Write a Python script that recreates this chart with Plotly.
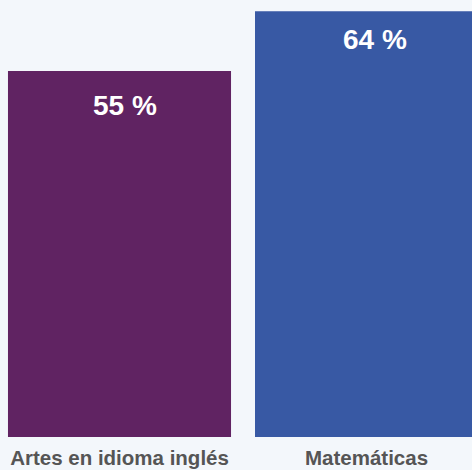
import plotly.graph_objects as go

categories = ["Artes en idioma inglés", "Matemáticas"]
values = [55, 64]
labels = ["55 %", "64 %"]
colors = ["#602362", "#3859a4"]

BG = "#f3f7fb"

fig = go.Figure()
fig.add_trace(go.Bar(
    x=categories, y=values,
    marker=dict(color=colors, line=dict(width=0)),
    hoverinfo="skip",
))

label_yshift = [-34, -28]
label_xshift = [5, 8]
for c, v, t, ys, xs in zip(categories, values, labels, label_yshift, label_xshift):
    fig.add_annotation(
        x=c, y=v, text=t, showarrow=False,
        yanchor="middle", xanchor="center", yshift=ys, xshift=xs,
        font=dict(family="Liberation Sans, Arial, sans-serif", size=28, color="white", weight="bold"),
    )

fig.update_layout(
    width=472, height=470,
    margin=dict(l=0, r=0, t=0, b=33),
    paper_bgcolor=BG,
    plot_bgcolor=BG,
    bargap=0.097,
    showlegend=False,
    xaxis=dict(
        range=[-0.4838, 1.427],
        showgrid=False, zeroline=False, showline=False, ticks="",
        ticklabelstandoff=6,
        tickfont=dict(family="Liberation Sans, Arial, sans-serif", size=20.5, color="#555555", weight="bold"),
    ),
    yaxis=dict(range=[0, 65.68], visible=False),
)

fig.write_html(
    "out.html",
    config={"displayModeBar": False},
    post_script="document.body.style.margin='0';document.body.style.background='%s';document.body.style.overflow='hidden';" % BG,
)
